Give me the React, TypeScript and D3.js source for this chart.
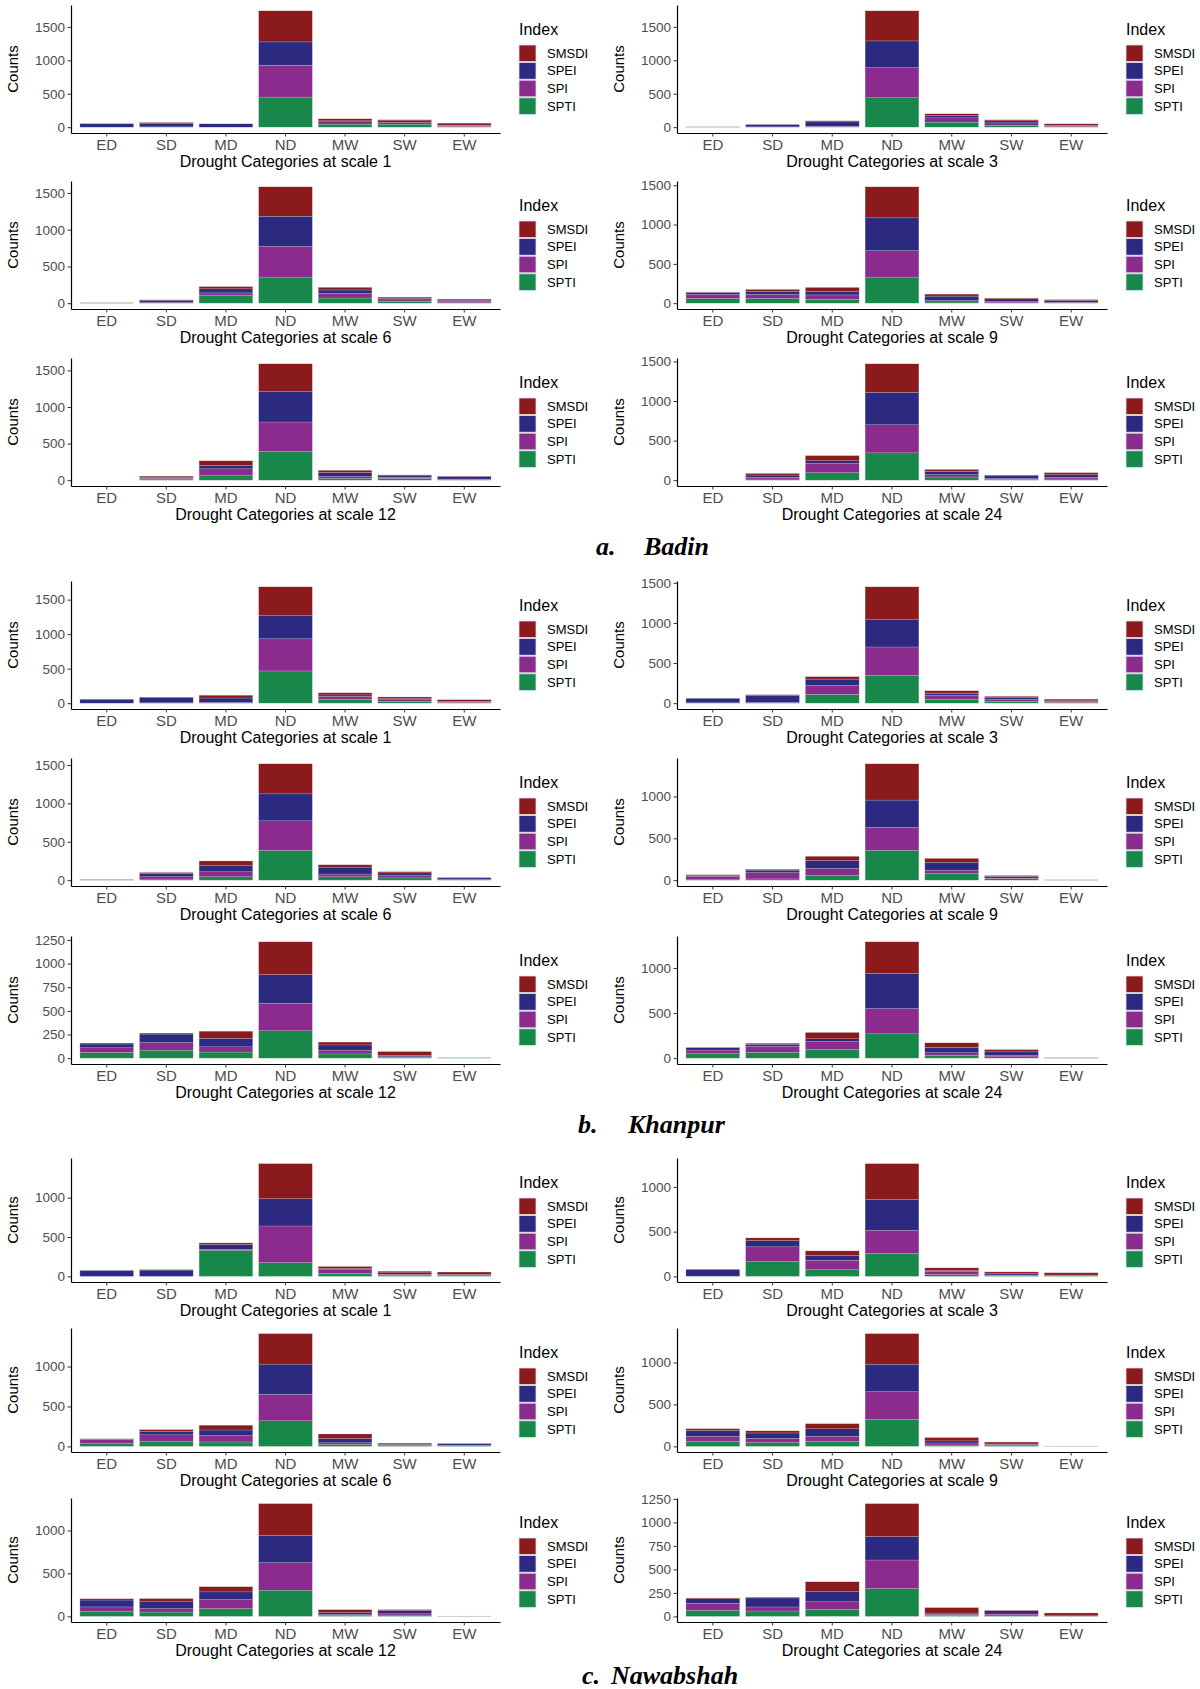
import React, { useEffect, useRef } from "react";
import * as d3 from "d3";

// drought categories on the x axis
const categories = ["ED", "SD", "MD", "ND", "MW", "SW", "EW"];
// stacking order, bottom to top
const indexNames = ["SPTI", "SPI", "SPEI", "SMSDI"];
const legendOrder = ["SMSDI", "SPEI", "SPI", "SPTI"];
const indexColors: any = {
  SMSDI: "#8b1a1c",
  SPEI: "#2c2a80",
  SPI: "#8a2b8d",
  SPTI: "#17884a",
};

const stations = ["Badin", "Khanpur", "Nawabshah"];
const stationLetters = ["a.", "b.", "c."];
const timeScales = [1, 3, 6, 9, 12, 24];

const ticks500 = [0, 500, 1000, 1500];
const ticks1000 = [0, 500, 1000];
const ticks250 = [0, 250, 500, 750, 1000, 1250];

// each panel: rows are SPTI, SPI, SPEI, SMSDI; columns follow categories
const badin1 = [
  [0, 0, 0, 450, 45, 45, 10],
  [0, 5, 0, 475, 35, 30, 10],
  [50, 55, 50, 350, 15, 20, 10],
  [5, 10, 0, 465, 30, 15, 30],
];
const badin3 = [
  [0, 0, 5, 440, 75, 30, 10],
  [0, 5, 10, 450, 65, 35, 10],
  [0, 35, 65, 400, 35, 30, 5],
  [5, 0, 15, 450, 25, 15, 25],
];
const badin6 = [
  [0, 0, 110, 355, 70, 25, 5],
  [0, 10, 30, 418, 65, 20, 15],
  [3, 30, 55, 410, 45, 20, 20],
  [2, 5, 30, 400, 35, 17, 15],
];
const badin9 = [
  [60, 60, 50, 332, 15, 5, 5],
  [50, 50, 55, 336, 20, 15, 5],
  [25, 40, 45, 417, 55, 35, 25],
  [5, 25, 50, 395, 25, 10, 10],
];
const badin12 = [
  [0, 15, 70, 395, 25, 25, 5],
  [0, 10, 85, 400, 25, 15, 10],
  [0, 10, 45, 415, 55, 20, 35],
  [0, 20, 65, 380, 30, 12, 5],
];
const badin24 = [
  [0, 15, 95, 345, 40, 10, 15],
  [0, 20, 120, 355, 30, 10, 20],
  [0, 30, 30, 410, 40, 35, 35],
  [0, 20, 65, 360, 25, 10, 25],
];
const khanpur1 = [
  [0, 0, 0, 467, 55, 25, 5],
  [0, 5, 10, 466, 45, 25, 10],
  [55, 80, 65, 334, 20, 15, 10],
  [5, 0, 40, 419, 30, 25, 25],
];
const khanpur3 = [
  [0, 0, 110, 345, 50, 25, 10],
  [5, 10, 110, 355, 45, 20, 10],
  [55, 85, 80, 340, 25, 30, 10],
  [0, 10, 30, 410, 35, 10, 20],
];
const khanpur6 = [
  [5, 15, 45, 386, 45, 30, 5],
  [3, 30, 65, 387, 35, 30, 5],
  [0, 45, 85, 351, 90, 35, 20],
  [0, 10, 55, 391, 30, 15, 5],
];
const khanpur9 = [
  [5, 15, 60, 356, 80, 20, 2],
  [40, 75, 80, 276, 40, 5, 2],
  [10, 30, 95, 325, 95, 20, 0],
  [10, 10, 50, 433, 45, 10, 0],
];
const khanpur12 = [
  [60, 85, 65, 290, 45, 10, 5],
  [50, 80, 55, 290, 40, 5, 0],
  [40, 90, 90, 305, 55, 15, 0],
  [10, 10, 75, 345, 30, 40, 0],
];
const khanpur24 = [
  [50, 65, 95, 270, 30, 15, 3],
  [40, 65, 90, 280, 30, 15, 2],
  [25, 25, 30, 390, 60, 40, 0],
  [5, 10, 70, 350, 50, 25, 0],
];
const nawab1 = [
  [0, 0, 330, 175, 40, 10, 5],
  [0, 0, 15, 465, 45, 15, 10],
  [75, 80, 60, 347, 15, 20, 10],
  [0, 5, 20, 445, 25, 20, 30],
];
const nawab3 = [
  [3, 165, 75, 255, 20, 10, 5],
  [0, 165, 105, 260, 35, 5, 5],
  [75, 70, 55, 343, 10, 15, 5],
  [0, 30, 50, 402, 30, 20, 25],
];
const nawab6 = [
  [40, 65, 55, 320, 25, 5, 10],
  [45, 80, 80, 330, 20, 10, 5],
  [5, 40, 70, 380, 55, 10, 20],
  [5, 25, 60, 382, 55, 15, 0],
];
const nawab9 = [
  [60, 45, 60, 320, 15, 15, 2],
  [60, 50, 60, 332, 25, 10, 1],
  [70, 65, 90, 328, 25, 15, 0],
  [20, 25, 60, 364, 40, 12, 0],
];
const nawab12 = [
  [55, 50, 90, 305, 10, 15, 2],
  [55, 40, 105, 320, 10, 15, 1],
  [80, 80, 90, 316, 25, 40, 0],
  [15, 37, 60, 371, 33, 8, 0],
];
const nawab24 = [
  [65, 57, 75, 296, 10, 15, 2],
  [75, 43, 80, 304, 10, 10, 2],
  [50, 96, 113, 250, 15, 35, 2],
  [6, 8, 100, 350, 58, 4, 30],
];

const panelData = [
  badin1, badin3, badin6, badin9, badin12, badin24,
  khanpur1, khanpur3, khanpur6, khanpur9, khanpur12, khanpur24,
  nawab1, nawab3, nawab6, nawab9, nawab12, nawab24,
];
const panelTicks = [
  ticks500, ticks500, ticks500, ticks500, ticks500, ticks500,
  ticks500, ticks500, ticks500, ticks1000, ticks250, ticks1000,
  ticks1000, ticks1000, ticks1000, ticks1000, ticks1000, ticks250,
];

const WIDTH = 1200;
const HEIGHT = 1689;
const FONT = "'Liberation Sans', Arial, Helvetica, sans-serif";

const App = () => {
  const ref: any = useRef(null);

  useEffect(() => {
    const el = ref.current;
    d3.select(el).selectAll("*").remove();

    const svg = d3
      .select(el)
      .append("svg")
      .attr("width", WIDTH)
      .attr("height", HEIGHT)
      .attr("viewBox", `0 0 ${WIDTH} ${HEIGHT}`)
      .style("font-family", FONT)
      .style("background", "#fff");

    // layout of the 9 rows (axis line y) and the two columns
    const rowBottoms = [133, 309, 486, 709, 886, 1064, 1282, 1452, 1622];
    const rowHeights = [128, 128, 128, 128, 128, 128, 124, 124, 124];
    const colX = [
      [71, 500],
      [677, 1107],
    ];

    panelData.forEach((data, i) => {
      const st = Math.floor(i / 6);
      const k = i % 6;
      const col = k % 2;
      const row = st * 3 + Math.floor(k / 2);
      const bottom = rowBottoms[row];
      const top = bottom - rowHeights[row];
      const [x0, x1] = colX[col];

      const rows = categories.map((c, j) => {
        const r: any = { cat: c };
        indexNames.forEach((n, s) => (r[n] = data[s][j]));
        return r;
      });
      const stacked = d3.stack().keys(indexNames)(rows);
      const yMax: any = d3.max(stacked[stacked.length - 1], (d: any) => d[1]);

      const xScale = d3
        .scaleBand()
        .domain(categories)
        .range([x0, x1])
        .paddingInner(0.1)
        .paddingOuter(0.15);

      const yScale = d3
        .scaleLinear()
        .domain([-0.05 * yMax, 1.05 * yMax])
        .range([bottom, top]);

      const g = svg.append("g");

      // bars
      g.selectAll("g.layer")
        .data(stacked)
        .join("g")
        .attr("fill", (d: any) => indexColors[d.key])
        .selectAll("rect")
        .data((d: any) => d.filter((v: any) => v[1] - v[0] > 0))
        .join("rect")
        .attr("x", (d: any) => xScale(d.data.cat) as number)
        .attr("width", xScale.bandwidth())
        .attr("y", (d: any) => yScale(d[1]))
        .attr("height", (d: any) => yScale(d[0]) - yScale(d[1]))
        .attr("stroke", "#d0d0d0")
        .attr("stroke-opacity", 0.6)
        .attr("stroke-width", 0.4);

      // Y axis
      const yAxis = d3
        .axisLeft(yScale)
        .tickValues(panelTicks[i])
        .tickFormat(d3.format("d"))
        .tickSize(3.5)
        .tickSizeOuter(0)
        .tickPadding(2.5);
      const ya = g
        .append("g")
        .attr("transform", `translate(${x0},0)`)
        .call(yAxis);
      ya.select(".domain").attr("stroke", "#000").attr("stroke-width", 1.2);
      ya.selectAll(".tick line").attr("stroke", "#333");
      ya.selectAll(".tick text")
        .attr("fill", "#4d4d4d")
        .style("font-size", "13.5px")
        .style("font-family", FONT);

      // X axis
      const xAxis = d3.axisBottom(xScale).tickSize(3.5).tickSizeOuter(0).tickPadding(3);
      const xa = g
        .append("g")
        .attr("transform", `translate(0,${bottom})`)
        .call(xAxis);
      xa.select(".domain").attr("stroke", "#000").attr("stroke-width", 1.2);
      xa.selectAll(".tick line").attr("stroke", "#333");
      xa.selectAll(".tick text")
        .attr("fill", "#4d4d4d")
        .style("font-size", "15px")
        .style("font-family", FONT);

      // axis titles
      g.append("text")
        .attr("x", (x0 + x1) / 2)
        .attr("y", bottom + 34)
        .attr("text-anchor", "middle")
        .style("font-size", "16px")
        .attr("fill", "#000")
        .text(`Drought Categories at scale ${timeScales[k]}`);

      const cy = (top + bottom) / 2;
      const cx = x0 - 58;
      g.append("text")
        .attr("transform", `translate(${cx},${cy}) rotate(-90)`)
        .attr("text-anchor", "middle")
        .attr("dy", "0.35em")
        .style("font-size", "15px")
        .attr("fill", "#000")
        .text("Counts");

      // legend
      const lx = x1 + 19;
      const lg = g.append("g").attr("transform", `translate(${lx},${top})`);
      lg.append("text")
        .attr("x", 0)
        .attr("y", 30)
        .style("font-size", "16px")
        .attr("fill", "#000")
        .text("Index");
      legendOrder.forEach((name, j) => {
        lg.append("rect")
          .attr("x", 0)
          .attr("y", 40 + j * 17.6)
          .attr("width", 17)
          .attr("height", 16.6)
          .attr("fill", indexColors[name])
          .attr("stroke", "#e0e0e0")
          .attr("stroke-width", 0.8);
        lg.append("text")
          .attr("x", 28)
          .attr("y", 40 + j * 17.6 + 8.3)
          .attr("dy", "0.35em")
          .style("font-size", "13px")
          .attr("fill", "#000")
          .text(name);
      });
    });

    // station captions
    const captionY = [555, 1133, 1684];
    const letterX = [596, 578, 582];
    const nameX = [644, 628, 611];
    stations.forEach((s, i) => {
      const t = svg
        .append("text")
        .attr("y", captionY[i])
        .style("font-family", "'Liberation Serif', 'Times New Roman', serif")
        .style("font-weight", "bold")
        .style("font-style", "italic")
        .style("font-size", "26px")
        .attr("fill", "#000");
      t.append("tspan").attr("x", letterX[i]).text(stationLetters[i]);
      t.append("tspan").attr("x", nameX[i]).text(s);
    });
  }, []);

  return (
    <div
      ref={ref}
      style={{ position: "absolute", left: 0, top: 0, width: WIDTH, height: HEIGHT }}
    ></div>
  );
};

export default App;
